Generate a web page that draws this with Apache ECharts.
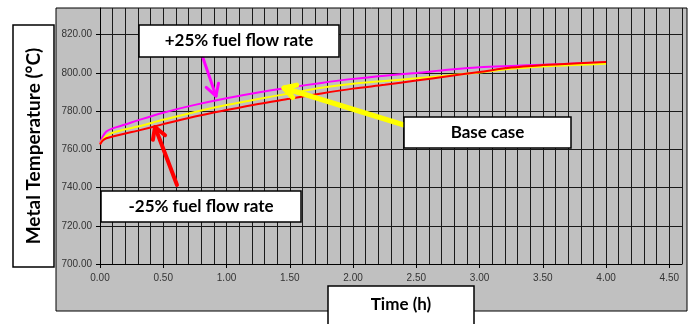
<!DOCTYPE html>
<html>
<head>
<meta charset="utf-8">
<script src="https://cdn.jsdelivr.net/npm/echarts@6/dist/echarts.min.js"></script>
<style>
  html, body { margin: 0; padding: 0; background: #fff; }
  #chart { width: 692px; height: 324px; }
</style>
</head>
<body>
<div id="chart"></div>
<script>
// time (h)
const hours = [0, 0.02, 0.05, 0.1, 0.2, 0.3, 0.5, 0.75, 1, 1.25, 1.5, 1.75, 2, 2.25, 2.5, 2.75, 3, 3.25, 3.5, 3.75, 4];
// metal temperature (°C)
const plus25 = [763, 766.5, 769.3, 771, 773, 775.2, 779.2, 783.3, 786.8, 789.8, 792.4, 794.8, 796.9, 798.6, 800, 801.7, 803, 803.7, 804.3, 804.9, 805.5];
const baseCase = [763, 765, 767, 768.7, 770.5, 772, 775.5, 779.6, 783.2, 786.4, 789.3, 792.2, 794.3, 795.8, 797.2, 798.7, 800.2, 802.2, 803.4, 804.1, 804.8];
const minus25 = [762.5, 764.5, 765.8, 766.7, 768.3, 769.8, 773.2, 777.2, 780.6, 783.8, 786.5, 789.3, 791.8, 793.8, 796, 798.3, 800.5, 802.8, 804.1, 805, 805.7];

const xTicks = [0, 0.5, 1, 1.5, 2, 2.5, 3, 3.5, 4, 4.5];
const yTicks = [700, 720, 740, 760, 780, 800, 820];

const pairs = (ys) => hours.map((h, i) => [h, ys[i]]);

// 带箭头的折线（开口箭头）
function arrow(x1, y1, x2, y2, color, width) {
  const a = Math.atan2(y2 - y1, x2 - x1);
  const len = 13, spread = Math.PI / 6;
  const p1 = [x2 - len * Math.cos(a - spread), y2 - len * Math.sin(a - spread)];
  const p2 = [x2 - len * Math.cos(a + spread), y2 - len * Math.sin(a + spread)];
  const style = { stroke: color, lineWidth: width, fill: null, lineCap: "round", lineJoin: "round" };
  return [
    { type: "polyline", z: 90, shape: { points: [[x1, y1], [x2, y2]] }, style },
    { type: "polyline", z: 90, shape: { points: [p1, [x2, y2], p2] }, style },
  ];
}

function box(x, y, w, h, text, fontSize, rotate) {
  const els = [
    { type: "rect", z: 100, shape: { x, y, width: w, height: h },
      style: { fill: "#fff", stroke: "#000", lineWidth: 1.5 } },
  ];
  els.push({
    type: "text", z: 101,
    x: x + w / 2, y: y + h / 2,
    rotation: rotate ? Math.PI / 2 : 0,
    style: {
      text, fill: "#000",
      font: "bold " + fontSize + "px Lato, 'Open Sans', sans-serif",
      align: "center", verticalAlign: "middle",
    },
  });
  return els;
}

const labelFont = {
  color: "#333",
  fontSize: 10,
  fontFamily: "'Liberation Sans', Arial, sans-serif",
  formatter: (v) => v.toFixed(2),
};

const chart = echarts.init(document.getElementById("chart"), null, { renderer: "canvas" });

const options = {
  animation: false,
  grid: { left: 100, right: 10, top: 8, bottom: 60, containLabel: false },
  xAxis: [
    {
      // 网格线 0.1h
      type: "value",
      min: 0,
      max: 4.6,
      interval: 0.1,
      axisLine: { show: true, onZero: false, lineStyle: { color: "#000", width: 1 } },
      axisTick: { show: false },
      axisLabel: { show: false },
      splitLine: { show: true, lineStyle: { color: "#1a1a1a", width: 1 } },
    },
    {
      // 刻度与标签 0.5h
      type: "value",
      position: "bottom",
      min: 0,
      max: 4.6,
      interval: 0.5,
      axisLine: { show: false },
      axisTick: { show: true, length: 4, customValues: xTicks, lineStyle: { color: "#000" } },
      axisLabel: { customValues: xTicks, margin: 9, ...labelFont },
      splitLine: { show: false },
    },
  ],
  yAxis: {
    type: "value",
    min: 700,
    max: 834,
    interval: 20,
    axisLine: { show: true, onZero: false, lineStyle: { color: "#000", width: 1 } },
    axisTick: { show: true, length: 4, customValues: yTicks, lineStyle: { color: "#000" } },
    axisLabel: { customValues: yTicks, margin: 8, ...labelFont },
    splitLine: { show: true, lineStyle: { color: "#1a1a1a", width: 1 } },
  },
  series: [
    {
      name: "+25% fuel flow rate", type: "line", data: pairs(plus25),
      smooth: 0.3, showSymbol: false, lineStyle: { color: "#ff00ff", width: 2 }, z: 3,
    },
    {
      name: "Base case", type: "line", data: pairs(baseCase),
      smooth: 0.3, showSymbol: false, lineStyle: { color: "#ffff00", width: 2 }, z: 4,
    },
    {
      name: "-25% fuel flow rate", type: "line", data: pairs(minus25),
      smooth: 0.3, showSymbol: false, lineStyle: { color: "#ff0000", width: 2 }, z: 5,
    },
  ],
  graphic: [
    // 外框灰色背景
    { type: "rect", z: -10, silent: true, shape: { x: 56, y: 8, width: 631, height: 303 },
      style: { fill: "#c0c0c0", stroke: "#000", lineWidth: 1 } },
    ...box(13, 25, 41, 242, "Metal Temperature (°C)", 19, true),
    ...box(328, 286, 146, 60, "", 16, false),
    { type: "text", z: 101, x: 401, y: 305,
      style: { text: "Time (h)", fill: "#000", font: "bold 17px Lato, 'Open Sans', sans-serif",
               align: "center", verticalAlign: "middle" } },
    ...box(139, 25, 200, 32, "+25% fuel flow rate", 17, false),
    ...box(404, 117, 167, 31, "Base case", 17, false),
    ...box(101, 191, 200, 31, "-25% fuel flow rate", 17, false),
    ...arrow(203, 58, 216, 96, "#ff00ff", 3),
    ...arrow(404, 125, 284, 88, "#ffff00", 5),
    ...arrow(177, 185, 155, 127, "#ff0000", 4),
  ],
};

chart.setOption(options);

window.addEventListener("resize", () => {
  chart.resize();
});
</script>
</body>
</html>
